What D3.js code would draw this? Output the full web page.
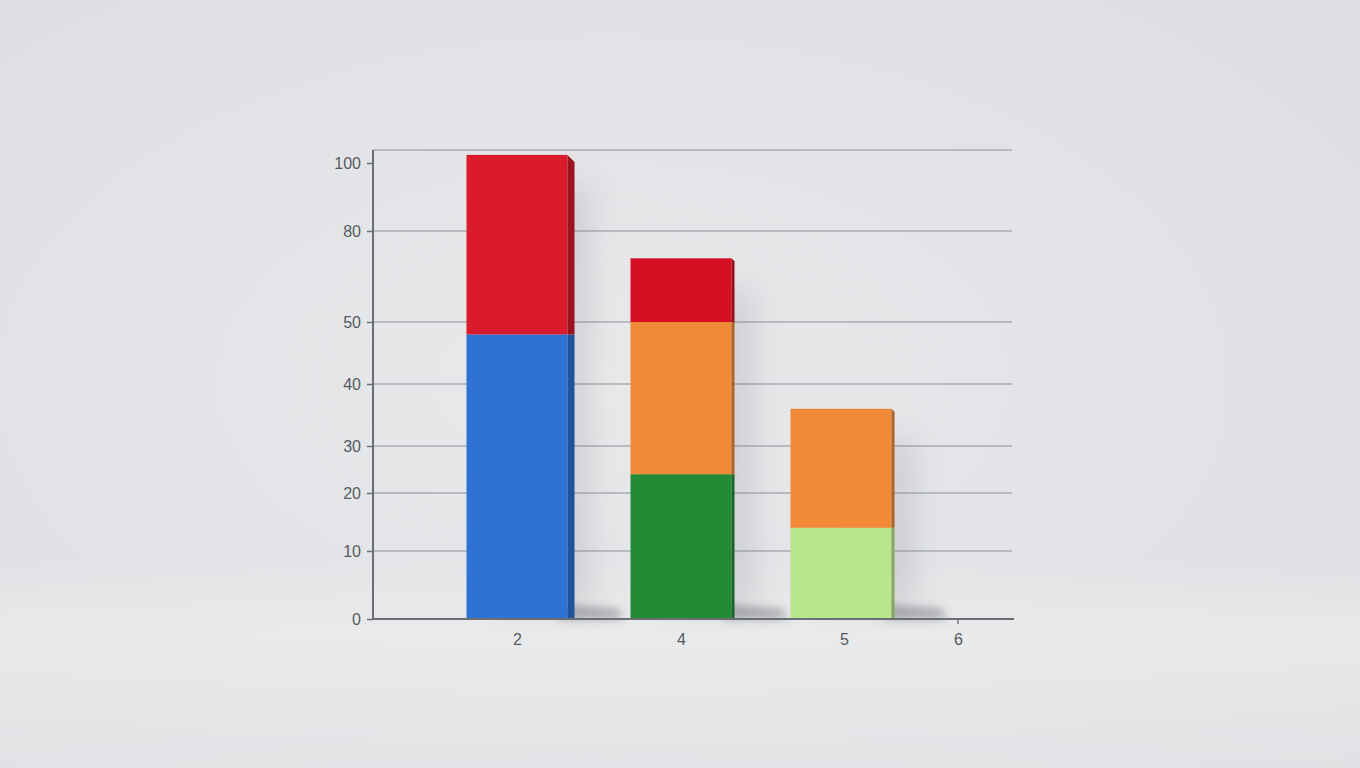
<!DOCTYPE html>
<html lang="en">
<head>
  <meta charset="UTF-8">
  <title>Stacked bars</title>
  <script src="https://d3js.org/d3.v7.min.js"></script>
  <style>
    html, body { margin: 0; padding: 0; overflow: hidden; }
    body { width: 1360px; height: 768px; }
    .tick text { font-family: "Liberation Sans", Arial, sans-serif; font-size: 16px; fill: #575b61; }
  </style>
</head>
<body>
<div class="main"></div>
<script>

  // categories on the x axis and their stacked values (bottom to top)
  var categories = [2, 4, 5];
  var xTicks = [2, 4, 5, 6];
  var yTicks = [0, 10, 20, 30, 40, 50, 80, 100];
  var gridValues = [10, 20, 30, 40, 50, 80, 104];

  var segBottom = [48, 24, 14];
  var segMiddle = [0, 26, 22];
  var segTop    = [54.5, 21, 0];

  var colBottom = ["#2e73d4", "#248a35", "#b9e68b"];
  var colMiddle = ["#f08a38", "#f08a38", "#f08a38"];
  var colTop    = ["#d91b2b", "#d60f24", "#d60f24"];

  let width = 1360, height = 768;
  let margin = {left: 373, top: 150, right: 348, bottom: 149};
  let w = width - margin.left - margin.right;
  let h = height - margin.top - margin.bottom;

  var svg = d3.select(".main").append("svg")
          .attr("width", width)
          .attr("height", height)
          .style("display", "block");

  var defs = svg.append("defs");
  var bg = defs.append("radialGradient").attr("id", "bg")
          .attr("cx", "45%").attr("cy", "50%").attr("r", "75%");
  bg.append("stop").attr("offset", "0%").attr("stop-color", "#e8e9eb");
  bg.append("stop").attr("offset", "100%").attr("stop-color", "#dcdee1");
  var floor = defs.append("linearGradient").attr("id", "floor")
          .attr("x1", 0).attr("y1", 0).attr("x2", 0).attr("y2", 1);
  floor.append("stop").attr("offset", "0%").attr("stop-color", "#eceded").attr("stop-opacity", 0);
  floor.append("stop").attr("offset", "35%").attr("stop-color", "#eceded").attr("stop-opacity", 0.7);
  floor.append("stop").attr("offset", "100%").attr("stop-color", "#e6e7e9").attr("stop-opacity", 0.4);
  defs.append("filter").attr("id", "blur").attr("x", "-50%").attr("y", "-50%")
          .attr("width", "200%").attr("height", "200%")
          .append("feGaussianBlur").attr("stdDeviation", 14);
  defs.append("filter").attr("id", "blurSmall").attr("x", "-50%").attr("y", "-100%")
          .attr("width", "200%").attr("height", "300%")
          .append("feGaussianBlur").attr("stdDeviation", 5);

  svg.append("rect").attr("width", width).attr("height", height).attr("fill", "url(#bg)");
  svg.append("rect").attr("x", 0).attr("y", 560).attr("width", width).attr("height", 208)
          .attr("fill", "url(#floor)");

  var g = svg.append("g").attr("transform", `translate(${margin.left},${margin.top})`);

  // non-uniform axes: tick spacing
  var yScale = d3.scaleLinear()
          .domain([0, 10, 20, 30, 40, 50, 80, 100, 104])
          .range([h, h - 68, h - 126, h - 173, h - 235, h - 297, h - 388, h - 456, 0]);
  var xScale = d3.scaleLinear()
          .domain([2, 4, 5, 6])
          .range([144, 308, 471, 585]);
  var barW = 101;
  var barShift = [0, 0, -3];

  // grid lines
  g.append("g").selectAll("line").data(gridValues).join("line")
          .attr("x1", 0).attr("x2", w)
          .attr("y1", d => yScale(d)).attr("y2", d => yScale(d))
          .style("stroke", "#a9acb0").style("stroke-width", 1.3);

  var stacks = categories.map((c, i) => {
    var b0 = 0, b1 = segBottom[i], m1 = b1 + segMiddle[i], t1 = m1 + segTop[i];
    return [
      {c: c, i: i, y0: b0, y1: b1, color: colBottom[i]},
      {c: c, i: i, y0: b1, y1: m1, color: colMiddle[i]},
      {c: c, i: i, y0: m1, y1: t1, color: colTop[i]}
    ].filter(s => s.y1 > s.y0);
  });
  var totals = stacks.map(s => s[s.length - 1].y1);
  var sideW = [7, 3, 3];
  var left = (c, i) => xScale(c) - barW / 2 + barShift[i];

  // soft cast shadows to the right
  g.append("g").selectAll("rect").data(categories).join("rect")
          .attr("x", (d, i) => left(d, i) + 35)
          .attr("y", (d, i) => yScale(totals[i]) + 30)
          .attr("width", barW - 10)
          .attr("height", (d, i) => h - yScale(totals[i]) - 40)
          .attr("fill", "#6d7076").attr("opacity", 0.16).attr("filter", "url(#blur)");
  g.append("g").selectAll("path").data(categories).join("path")
          .attr("d", (d, i) => {
            var x0 = left(d, i) + barW;
            return `M${x0 - 10},${h}L${x0 - 4},${h - 14}L${x0 + 50},${h - 10}L${x0 + 56},${h}Z`;
          })
          .attr("fill", "#2e3138").attr("opacity", 0.35).attr("filter", "url(#blurSmall)");

  // bars
  stacks.forEach((segs, i) => {
    var bar = g.append("g");
    bar.selectAll("rect.face").data(segs).join("rect")
            .attr("class", "face")
            .attr("x", d => left(d.c, d.i))
            .attr("y", d => yScale(d.y1))
            .attr("width", barW)
            .attr("height", d => yScale(d.y0) - yScale(d.y1))
            .attr("fill", d => d.color);
    bar.selectAll("path.side").data(segs).join("path")
            .attr("class", "side")
            .attr("d", (d, k) => {
              var x0 = left(d.c, d.i) + barW, x1 = x0 + sideW[i];
              var top = yScale(d.y1), bot = yScale(d.y0);
              var topOff = (k === segs.length - 1) ? sideW[i] : 0;
              return `M${x0},${top}L${x1},${top + topOff}L${x1},${bot}L${x0},${bot}Z`;
            })
            .attr("fill", d => d3.color(d.color).darker(0.9));
  });

  // axes
  var yAxis = d3.axisLeft(yScale).tickValues(yTicks).tickSize(6).tickPadding(6).tickFormat(d3.format("d"));
  g.append("g").call(yAxis)
          .call(a => a.select(".domain").remove())
          .call(a => a.selectAll(".tick line").style("stroke", "#6b6e73").style("stroke-width", 1.5));

  var xAxis = d3.axisBottom(xScale).tickValues(xTicks).tickSize(0).tickPadding(15).tickFormat(d3.format("d"));
  g.append("g").attr("transform", `translate(0,${h})`).call(xAxis)
          .call(a => a.select(".domain").remove());
  g.append("line").attr("x1", xScale(6)).attr("x2", xScale(6)).attr("y1", h).attr("y2", h + 5)
          .style("stroke", "#6b6e73").style("stroke-width", 1.3);

  g.append("line").attr("x1", 0).attr("x2", 0).attr("y1", 0).attr("y2", h)
          .style("stroke", "#6b6e73").style("stroke-width", 2);
  g.append("line").attr("x1", 0).attr("x2", w + 2).attr("y1", h).attr("y2", h)
          .style("stroke", "#6b6e73").style("stroke-width", 2);

</script>
</body>
</html>
